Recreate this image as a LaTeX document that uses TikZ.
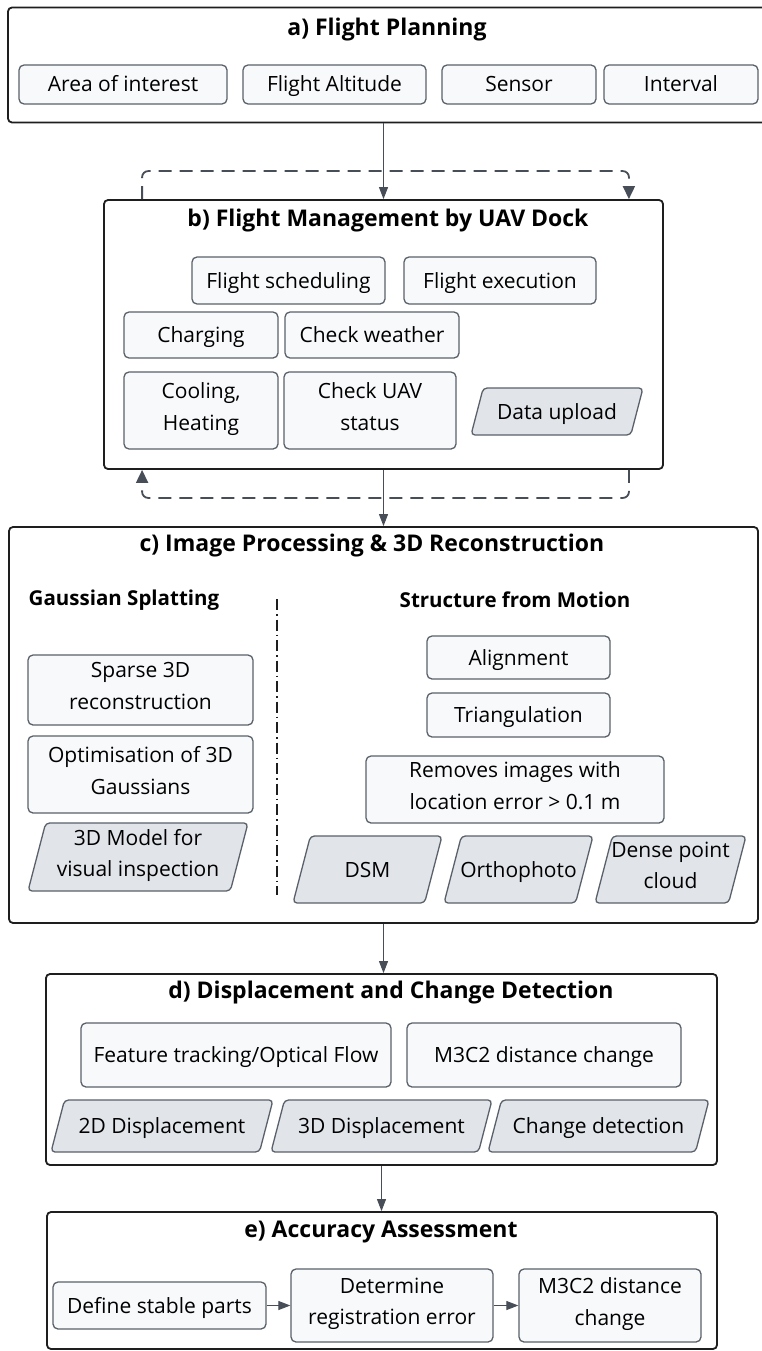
\documentclass[tikz,border=0pt]{standalone}
\usepackage{fontspec}
\setmainfont{Open Sans}
\usetikzlibrary{arrows.meta}
\definecolor{outerc}{HTML}{1E1E1E}
\definecolor{innerc}{HTML}{5A616B}
\definecolor{innerf}{HTML}{F8F9FB}
\definecolor{iof}{HTML}{E1E4E9}
\definecolor{arrc}{HTML}{474E58}
\newcommand{\myBody}{\fontsize{21}{31.5}\selectfont}
\newcommand{\myTitle}{\fontsize{23}{26}\selectfont\bfseries}
\newcommand{\mySub}{\fontsize{20.5}{24}\selectfont\bfseries}
\newcommand{\myStrut}{\rule[-8pt]{0pt}{31pt}}
\tikzset{
 outerbox/.style={draw=outerc, line width=1.8pt, rounded corners=4pt, fill=white, inner sep=0},
 procbox/.style={draw=innerc, line width=1.3pt, rounded corners=5pt, fill=innerf, align=center, inner sep=0, font=\myBody, execute at begin node=\myStrut, execute at end node=\myStrut},
 iotext/.style={align=center, inner sep=0, font=\myBody, execute at begin node=\myStrut, execute at end node=\myStrut},
 iobg/.style={draw=innerc, line width=1.3pt, rounded corners=4pt, fill=iof},
 titletext/.style={font=\myTitle, inner sep=0},
 subtitle/.style={font=\mySub, inner sep=0},
 arr/.style={draw=arrc, line width=1pt, -{Triangle[length=12pt,width=9pt]}},
 dashloop/.style={draw=arrc, line width=1.8pt, dash pattern=on 13pt off 8pt, rounded corners=6pt},
 looptip/.style={-{Triangle[length=13pt,width=12pt]}},
 divider/.style={draw=outerc, line width=1.2pt, dash pattern=on 11pt off 4pt on 1.5pt off 4pt}
}
% #1 name, #2 bottom-left x, #3 top y, #4 top-right x, #5 bottom y, #6 text
\newcommand{\iobox}[6]{%
 \pgfmathsetmacro\ioslant{0.26*(#5-#3)}%
 \draw[iobg] (#2+\ioslant,#3) -- (#4,#3) -- (#4-\ioslant,#5) -- (#2,#5) -- cycle;
 \node[iotext] (#1) at ({(#2+#4)/2},{(#3+#5)/2}) {#6};
}
\begin{document}
\begin{tikzpicture}[x=1pt,y=-1pt]
\useasboundingbox (0,0) rectangle (761,1351);
\fill[white] (0,0) rectangle (761,1351);

% ---------- a ----------
\node[outerbox, minimum width=762pt, minimum height=115pt] (A) at (389,65) {};
\node[titletext] (At) at (387,30) {a) Flight Planning};
\node[procbox, minimum width=208pt, minimum height=39pt] (aoi) at (123,84.5) {Area of interest};
\node[procbox, minimum width=183pt, minimum height=39pt] (alt) at (334.5,84.5) {Flight Altitude};
\node[procbox, minimum width=154pt, minimum height=39pt] (sen) at (519,84.5) {Sensor};
\node[procbox, minimum width=154pt, minimum height=39pt] (int) at (681,84.5) {Interval};

% ---------- b ----------
\node[outerbox, minimum width=559pt, minimum height=269pt] (B) at (383.5,334.5) {};
\node[titletext] (Bt) at (388,221) {b) Flight Management by UAV Dock};
\node[procbox, minimum width=193pt, minimum height=47pt] (fs) at (288.5,280.5) {Flight scheduling};
\node[procbox, minimum width=192pt, minimum height=47pt] (fe) at (500,280.5) {Flight execution};
\node[procbox, minimum width=154pt, minimum height=46pt] (chg) at (201,335) {Charging};
\node[procbox, minimum width=174pt, minimum height=46pt] (cw) at (372,335) {Check weather};
\node[procbox, minimum width=154pt, minimum height=77pt] (cool) at (201,410.5) {Cooling,\\Heating};
\node[procbox, minimum width=172pt, minimum height=77pt] (cuav) at (370,410.5) {Check UAV\\status};
\iobox{du}{471}{388}{643}{435}{Data upload}

% ---------- c ----------
\node[outerbox, minimum width=749pt, minimum height=396pt] (C) at (383.5,725) {};
\node[titletext] (Ct) at (372,546) {c) Image Processing \& 3D Reconstruction};
\node[subtitle] (gs) at (124,600) {Gaussian Splatting};
\node[subtitle] (sfm) at (515,600) {Structure from Motion};
\draw[divider] (277,599) -- (277,895);
\node[procbox, minimum width=225pt, minimum height=70pt] (sp) at (140.5,690) {Sparse 3D\\reconstruction};
\node[procbox, minimum width=225pt, minimum height=77pt] (opt) at (140.5,774.5) {Optimisation of 3D\\Gaussians};
\iobox{mod}{28}{823}{248}{891}{3D Model for\\visual inspection}
\node[procbox, minimum width=183pt, minimum height=43pt] (al) at (518.5,657.5) {Alignment};
\node[procbox, minimum width=183pt, minimum height=44pt] (tri) at (518.5,715) {Triangulation};
\node[procbox, minimum width=298pt, minimum height=67pt] (rem) at (515,789.5) {Removes images with\\location error > 0.1 m};
\iobox{dsm}{293}{836}{442}{903}{DSM}
\iobox{orth}{444}{836}{593}{903}{Orthophoto}
\iobox{dpc}{595}{836}{746}{903}{Dense point\\cloud}

% ---------- d ----------
\node[outerbox, minimum width=671pt, minimum height=191pt] (D) at (381.5,1069.5) {};
\node[titletext] (Dt) at (391,993) {d) Displacement and Change Detection};
\node[procbox, minimum width=310pt, minimum height=64pt] (ft) at (236,1055) {Feature tracking/Optical Flow};
\node[procbox, minimum width=274pt, minimum height=64pt] (m3d) at (544,1055) {M3C2 distance change};
\iobox{twod}{51}{1100}{273}{1152}{2D Displacement}
\iobox{threed}{271}{1100}{492}{1152}{3D Displacement}
\iobox{cd}{488}{1100}{709}{1152}{Change detection}

% ---------- e ----------
\node[outerbox, minimum width=670pt, minimum height=137pt] (E) at (382,1280.5) {};
\node[titletext] (Et) at (381,1232) {e) Accuracy Assessment};
\node[procbox, minimum width=213pt, minimum height=47pt] (dsp) at (159.5,1305.5) {Define stable parts};
\node[procbox, minimum width=202pt, minimum height=73pt] (dre) at (392,1305.5) {Determine\\registration error};
\node[procbox, minimum width=182pt, minimum height=73pt] (m3e) at (610,1305.5) {M3C2 distance\\change};

% ---------- connectors ----------
\draw[arr] (A.south -| B.north) -- (B.north);
\draw[dashloop, looptip] ([xshift=39pt]B.north west) -- ++(0,-28) -| ([xshift=-35pt]B.north east);
\draw[dashloop, looptip] ([xshift=-35pt]B.south east) -- ++(0,28) -| ([xshift=39pt]B.south west);
\draw[arr] (B.south) -- (B.south |- C.north);
\draw[arr] (C.south) -- (C.south |- D.north);
\draw[arr] (D.south) -- (D.south |- E.north);
\draw[arr] (dsp) -- (dre);
\draw[arr] (dre) -- (m3e);
\end{tikzpicture}
\end{document}
